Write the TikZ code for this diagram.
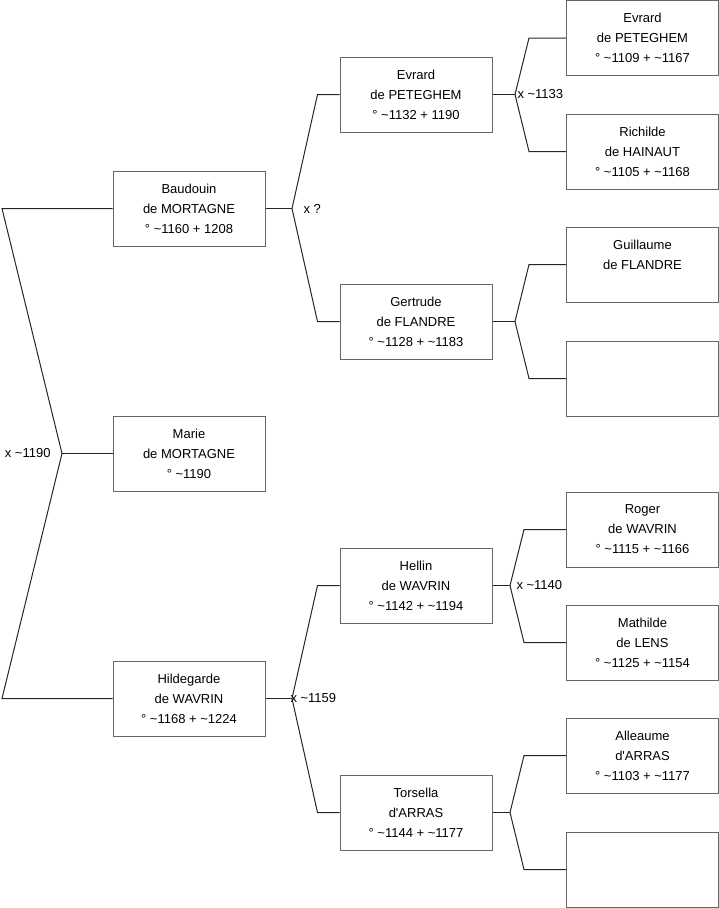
\documentclass[tikz,border=0pt]{standalone}
\usepackage{fontspec}
\setmainfont{Liberation Sans}
\usetikzlibrary{positioning}

\begin{document}
\begin{tikzpicture}[x=1pt, y=-1pt, line width=1pt,
  every node/.style={font=\fontsize{13}{20}\selectfont},
  person/.style={draw=black!60, minimum width=152pt, minimum height=75pt, align=center, inner sep=0pt},
  link/.style={draw=black!85},
  wed/.style={inner sep=0pt}]
  \useasboundingbox (0,0) rectangle (719,908);

  \node[person] (baudouin) at (189,208.5) {Baudouin\\de MORTAGNE\\° \textasciitilde1160 + 1208};
  \node[person] (marie) at (189,453.5) {Marie\\de MORTAGNE\\° \textasciitilde1190};
  \node[person] (hildegarde) at (189,698.5) {Hildegarde\\de WAVRIN\\° \textasciitilde1168 + \textasciitilde1224};

  \node[person] (evrard) at (416,94.5) {Evrard\\de PETEGHEM\\° \textasciitilde1132 + 1190};
  \node[person] (gertrude) at (416,321.5) {Gertrude\\de FLANDRE\\° \textasciitilde1128 + \textasciitilde1183};
  \node[person] (hellin) at (416,585.5) {Hellin\\de WAVRIN\\° \textasciitilde1142 + \textasciitilde1194};
  \node[person] (torsella) at (416,812.5) {Torsella\\d\textquotesingle ARRAS\\° \textasciitilde1144 + \textasciitilde1177};

  \node[person] (evrardp) at (642.5,38) {Evrard\\de PETEGHEM\\° \textasciitilde1109 + \textasciitilde1167};
  \node[person] (richilde) at (642.5,151.5) {Richilde\\de HAINAUT\\° \textasciitilde1105 + \textasciitilde1168};
  \node[person] (guillaume) at (642.5,264.5) {Guillaume\\de FLANDRE\\\mbox{}};
  \node[person] (unknownA) at (642.5,378.5) {};
  \node[person] (roger) at (642.5,529.5) {Roger\\de WAVRIN\\° \textasciitilde1115 + \textasciitilde1166};
  \node[person] (mathilde) at (642.5,642.5) {Mathilde\\de LENS\\° \textasciitilde1125 + \textasciitilde1154};
  \node[person] (alleaume) at (642.5,755.5) {Alleaume\\d\textquotesingle ARRAS\\° \textasciitilde1103 + \textasciitilde1177};
  \node[person] (unknownB) at (642.5,869.5) {};

  \coordinate (m0) at (62,453.5);
  \coordinate (r1) at (2,208.5);
  \coordinate (r2) at (2,698.5);
  \coordinate (mb) at (292,208.5);
  \coordinate (mh) at (292,698.5);
  \coordinate (me) at (515,94.5);
  \coordinate (mg) at (515,321.5);
  \coordinate (ml) at (510,585.5);
  \coordinate (mt) at (510,812.5);

  \draw[link] (baudouin.west) -- (r1) -- (m0) -- (r2) -- (hildegarde.west);
  \draw[link] (m0) -- (marie.west);

  \draw[link] (evrard.west) -- ([xshift=-22pt]evrard.west) -- (mb) -- ([xshift=-22pt]gertrude.west) -- (gertrude.west);
  \draw[link] (mb) -- (baudouin.east);
  \draw[link] (hellin.west) -- ([xshift=-22pt]hellin.west) -- (mh) -- ([xshift=-22pt]torsella.west) -- (torsella.west);
  \draw[link] (mh) -- (hildegarde.east);

  \draw[link] (evrardp.west) -- ([xshift=-37pt]evrardp.west) -- (me) -- ([xshift=-37pt]richilde.west) -- (richilde.west);
  \draw[link] (me) -- (evrard.east);
  \draw[link] (guillaume.west) -- ([xshift=-37pt]guillaume.west) -- (mg) -- ([xshift=-37pt]unknownA.west) -- (unknownA.west);
  \draw[link] (mg) -- (gertrude.east);
  \draw[link] (roger.west) -- ([xshift=-42pt]roger.west) -- (ml) -- ([xshift=-42pt]mathilde.west) -- (mathilde.west);
  \draw[link] (ml) -- (hellin.east);
  \draw[link] (alleaume.west) -- ([xshift=-42pt]alleaume.west) -- (mt) -- ([xshift=-42pt]unknownB.west) -- (unknownB.west);
  \draw[link] (mt) -- (torsella.east);

  \node[wed, anchor=east] (w0) at (51,453.5) {x \textasciitilde1190};
  \node[wed, anchor=west] (wb) at (303,208.5) {x ?};
  \node[wed, anchor=west] (wh) at (290,698.5) {x \textasciitilde1159};
  \node[wed, anchor=west] (we) at (517,94.5) {x \textasciitilde1133};
  \node[wed, anchor=west] (wl) at (516,585.5) {x \textasciitilde1140};
\end{tikzpicture}
\end{document}
